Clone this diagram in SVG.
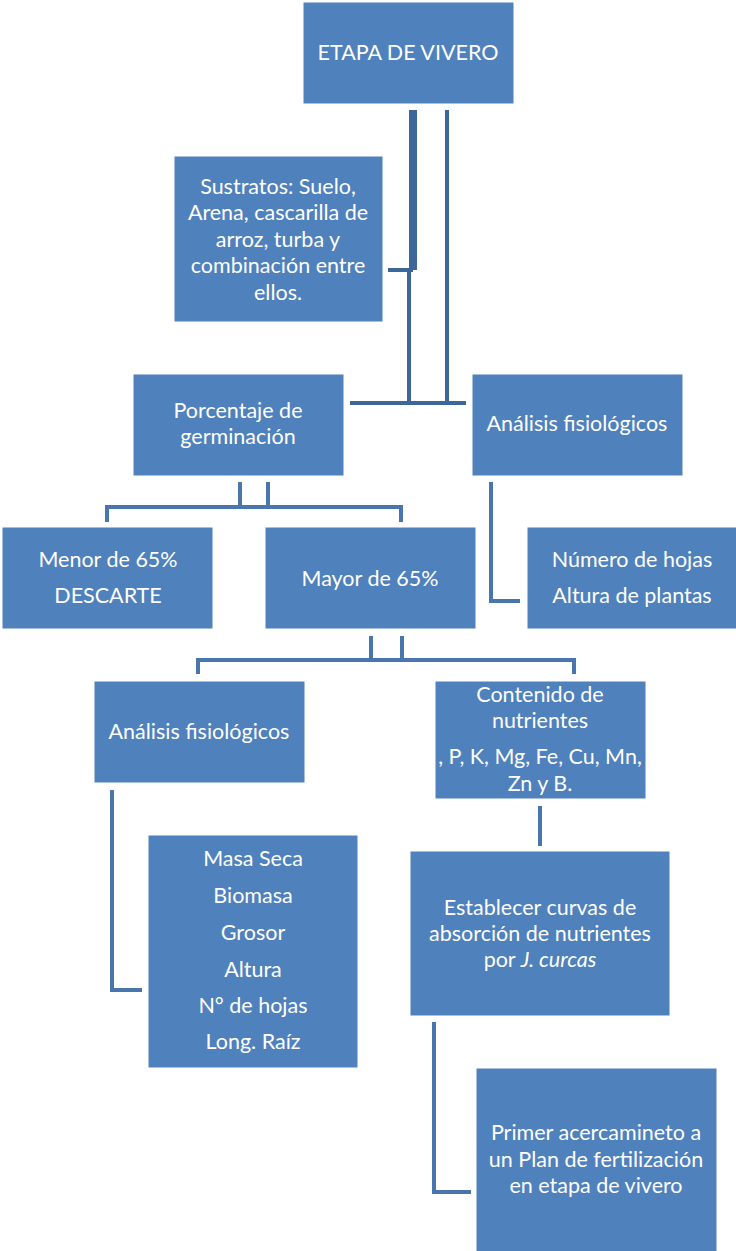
<svg xmlns="http://www.w3.org/2000/svg" width="736" height="1251" viewBox="0 0 736 1251">
<style>
.box{fill:#4F81BD;stroke:#fff;stroke-width:1}
text{font-family:Lato,"Open Sans","Liberation Sans",sans-serif;font-size:21.5px;fill:#fff;text-anchor:middle}
.c{fill:none;stroke:#4A76AE;stroke-width:4}
.cd{fill:none;stroke:#3D6799;stroke-width:4}
</style>
<rect width="736" height="1251" fill="#fff"/>
<g id="connectors">
<path class="cd" d="M411 110V270H388"/>
<path class="cd" d="M415 110V270"/>
<path class="cd" d="M409 270V403H350"/>
<path class="cd" d="M447 110V403H466M409 403H447"/>
<path class="c" d="M240 482V507M268 482V507M107 522V507H401V522"/>
<path class="c" d="M491 482V601H520"/>
<path class="c" d="M371 636V660M402 636V660M198 674V660H574V674"/>
<path class="c" d="M540 806V846"/>
<path class="c" d="M112 790V990H142"/>
<path class="c" d="M434 1022V1192H471"/>
</g>
<g id="n1"><rect class="box" x="303" y="2" width="211" height="102"/><text x="408" y="60">ETAPA DE VIVERO</text></g>
<g id="n2"><rect class="box" x="174" y="156" width="209" height="166"/>
<text x="278" y="194">Sustratos: Suelo,</text><text x="278" y="220">Arena, cascarilla de</text><text x="278" y="247">arroz, turba y</text><text x="278" y="273">combinación entre</text><text x="278" y="300">ellos.</text></g>
<g id="n3"><rect class="box" x="133" y="374" width="211" height="102"/><text x="238" y="418">Porcentaje de</text><text x="238" y="444">germinación</text></g>
<g id="n4"><rect class="box" x="472" y="374" width="211" height="102"/><text x="577" y="431">Análisis fisiológicos</text></g>
<g id="n5"><rect class="box" x="2" y="527" width="211" height="102"/><text x="108" y="567">Menor de 65%</text><text x="108" y="603">DESCARTE</text></g>
<g id="n6"><rect class="box" x="265" y="527" width="211" height="102"/><text x="370" y="586">Mayor de 65%</text></g>
<g id="n7"><rect class="box" x="527" y="527" width="210" height="102"/><text x="632" y="567">Número de hojas</text><text x="632" y="603">Altura de plantas</text></g>
<g id="n8"><rect class="box" x="94" y="681" width="211" height="102"/><text x="199" y="739">Análisis fisiológicos</text></g>
<g id="n9"><rect class="box" x="435" y="681" width="211" height="118"/><text x="540" y="702">Contenido de</text><text x="540" y="728">nutrientes</text><text x="540" y="764">, P, K, Mg, Fe, Cu, Mn,</text><text x="540" y="791">Zn y B.</text></g>
<g id="n10"><rect class="box" x="148" y="835" width="210" height="233"/>
<text x="253" y="866">Masa Seca</text><text x="253" y="903">Biomasa</text><text x="253" y="940">Grosor</text><text x="253" y="977">Altura</text><text x="253" y="1013">N° de hojas</text><text x="253" y="1049">Long. Raíz</text></g>
<g id="n11"><rect class="box" x="410" y="851" width="260" height="165"/><text x="540" y="915">Establecer curvas de</text><text x="540" y="941">absorción de nutrientes</text><text x="540" y="967">por <tspan font-style="italic">J. curcas</tspan></text></g>
<g id="n12"><rect class="box" x="476" y="1068" width="241" height="184"/><text x="596" y="1140">Primer acercamineto a</text><text x="596" y="1167">un Plan de fertilización</text><text x="596" y="1193">en etapa de vivero</text></g>
</svg>
